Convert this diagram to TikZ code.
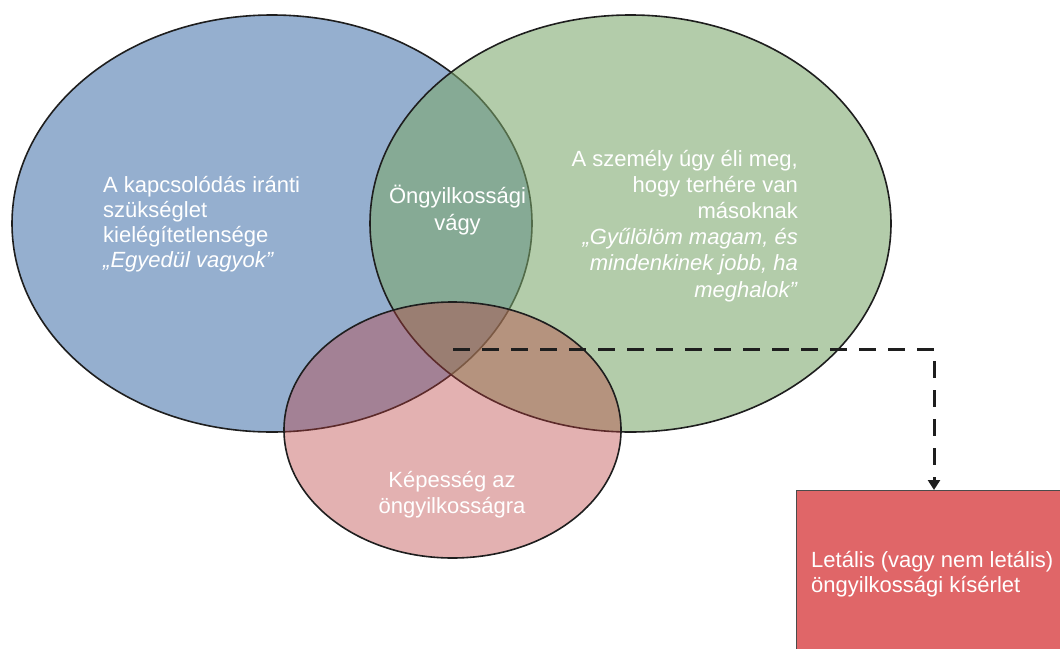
\documentclass[tikz,border=0pt]{standalone}
\usepackage{fontspec}
\setmainfont{Liberation Sans}
\usetikzlibrary{arrows.meta,calc}
\definecolor{bluefill}{RGB}{69,116,171}
\definecolor{greenfill}{RGB}{123,167,106}
\definecolor{pinkfill}{RGB}{185,62,62}
\definecolor{boxred}{RGB}{224,102,104}
\definecolor{edge}{RGB}{30,30,30}
\begin{document}
\begin{tikzpicture}[x=1pt,y=-1pt,
  venn/.style={draw=edge,line width=1.6pt},
  txt/.style={text=white,inner sep=0pt,font=\fontsize{22}{26}\selectfont},
  boxst/.style={draw=edge!80,line width=1pt,fill=boxred,inner sep=0pt,minimum width=290pt,minimum height=170pt},
  dasharrow/.style={draw=edge,line width=3pt,dash pattern=on 17pt off 12pt,-{Triangle[width=12pt,length=10pt]}}]
\useasboundingbox (0,0) rectangle (1060,648);
\fill[white] (0,0) rectangle (1060,648);
\draw[venn,fill=bluefill,fill opacity=0.57] (272,223.5) ellipse [x radius=260,y radius=208.5];
\draw[venn,fill=greenfill,fill opacity=0.57] (630.5,223.5) ellipse [x radius=260.5,y radius=208.5];
\draw[venn,fill=pinkfill,fill opacity=0.4] (452.5,430) ellipse [x radius=168.5,y radius=128];
\node[txt,font=\fontsize{22}{25}\selectfont,anchor=base west,align=left] (ltext) at (103,267) {A kapcsolódás iránti\\szükséglet\\kielégítetlensége\\\textit{„Egyedül vagyok”}};
\node[txt,font=\fontsize{22}{27}\selectfont,anchor=base,align=center] (ctext) at (457.5,230) {Öngyilkossági\\vágy};
\node[txt,font=\fontsize{22}{26.2}\selectfont,anchor=base east,align=right] (rtext) at (798,297) {A személy úgy éli meg,\\hogy terhére van\\másoknak\\\textit{„Gyűlölöm magam, és}\\\textit{mindenkinek jobb, ha}\\\textit{meghalok”}};
\node[txt,anchor=base,align=center] (ptext) at (452,513) {Képesség az\\öngyilkosságra};
\node[boxst,anchor=north west] (box) at (796,490) {};
\node[txt,font=\fontsize{22}{25}\selectfont,anchor=base west,align=left] (btext) at (811,592) {Letális (vagy nem letális)\\öngyilkossági kísérlet};
\coordinate (s) at (453,349);
\coordinate (t) at ($(box.north west)+(138,0)$);
\draw[dasharrow] (s) -| (t);
\end{tikzpicture}
\end{document}
